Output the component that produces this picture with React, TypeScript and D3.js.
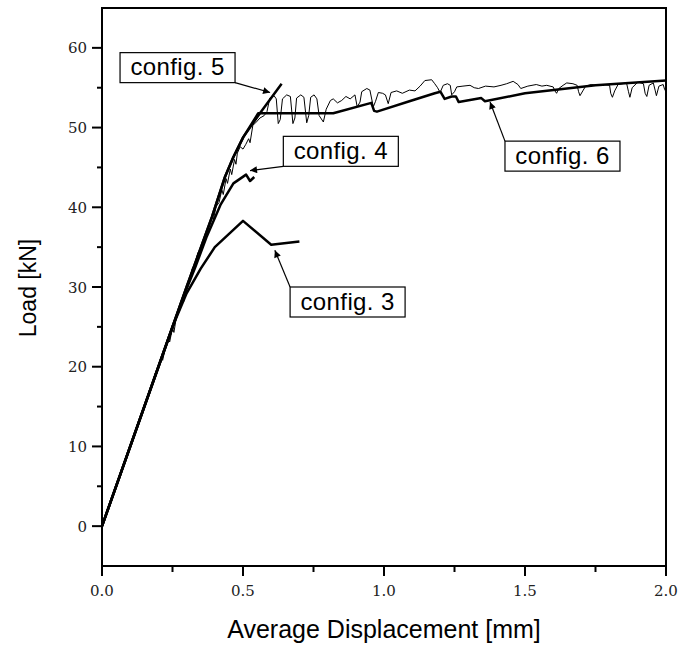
import React from "react";
import * as d3 from "d3";

const W = 678;
const H = 649;
const X_DOMAIN: [number, number] = [0, 2];
const Y_DOMAIN: [number, number] = [-5, 65];
const X_TICKS = [0, 0.5, 1, 1.5, 2];
const X_MINOR = [0.25, 0.75, 1.25, 1.75];
const Y_TICKS = [0, 10, 20, 30, 40, 50, 60];
const Y_MINOR = [5, 15, 25, 35, 45, 55];
const X_TITLE = "Average Displacement [mm]";
const Y_TITLE = "Load [kN]";

// thick simulated curves
const config3: [number, number][] = [
  [0, 0], [0.25, 25], [0.3, 29.2], [0.35, 32.3], [0.4, 35], [0.5, 38.3], [0.6, 35.3], [0.7, 35.7],
];
const config4: [number, number][] = [
  [0, 0], [0.29, 28.9], [0.33, 32.4], [0.37, 36.2], [0.42, 40.3], [0.466, 43.0], [0.511, 44.1],
  [0.525, 43.3], [0.54, 43.8],
];
const config5: [number, number][] = [
  [0, 0], [0.3, 30], [0.39, 38.8], [0.436, 43.8], [0.466, 46.3], [0.501, 48.8], [0.56, 51.8], [0.637, 55.5],
];
const config6: [number, number][] = [
  [0, 0], [0.3, 30], [0.39, 38.8], [0.436, 43.8], [0.466, 46.3], [0.501, 48.8], [0.554, 51.8],
  [0.82, 51.8], [0.955, 53.1], [0.965, 52.1], [0.975, 52.0], [1.09, 53.3], [1.18, 54.3], [1.2, 54.5],
  [1.215, 53.6], [1.24, 53.9], [1.255, 53.9], [1.265, 53.2], [1.345, 53.7], [1.358, 53.3],
  [1.5, 54.3], [1.75, 55.3], [2.0, 55.9],
];
// thin experimental curve
const experiment: [number, number][] = [
  [0, 0], [0.1, 10.1], [0.18, 18.1], [0.19, 19.3], [0.2, 19.9], [0.21, 21.1], [0.215, 20.8], [0.225, 22.4],
  [0.235, 23.6], [0.24, 23.1], [0.25, 24.9], [0.255, 24.3], [0.265, 26.5], [0.275, 27.0], [0.285, 28.6],
  [0.29, 28.2], [0.3, 30.0], [0.31, 30.8], [0.32, 32.3], [0.33, 32.9], [0.34, 34.3], [0.345, 33.9],
  [0.36, 36.0], [0.37, 36.9], [0.38, 37.6], [0.39, 38.9], [0.395, 38.5], [0.405, 40.1], [0.415, 40.6],
  [0.425, 42.2], [0.43, 41.6], [0.44, 43.6], [0.445, 43.0], [0.455, 44.8], [0.46, 44.1], [0.47, 46.0],
  [0.475, 45.4], [0.48, 46.8], [0.49, 47.6], [0.5, 47.3], [0.51, 47.9], [0.52, 48.6], [0.525, 48.1],
  [0.535, 50.3], [0.545, 50.6], [0.56, 51.2], [0.575, 51.5], [0.585, 52.0],
  [0.595, 53.7], [0.61, 54.0], [0.618, 53.6], [0.625, 50.5], [0.632, 51.0], [0.64, 53.6], [0.655, 54.1],
  [0.668, 53.9], [0.677, 50.5], [0.684, 51.2], [0.69, 53.7], [0.705, 54.1], [0.716, 53.8], [0.726, 50.6],
  [0.733, 51.5], [0.74, 53.8], [0.752, 54.1], [0.762, 53.6], [0.77, 51.5], [0.785, 50.7], [0.795, 52.3],
  [0.81, 53.4], [0.82, 53.6], [0.835, 53.1], [0.85, 53.4], [0.865, 53.9], [0.88, 53.6], [0.897, 54.1],
  [0.905, 52.6], [0.915, 53.2], [0.921, 54.5], [0.939, 54.9], [0.95, 54.7], [0.962, 52.6], [0.97, 53.3],
  [0.98, 54.4], [0.995, 54.3], [1.005, 54.1], [1.015, 53.0], [1.025, 54.4], [1.045, 54.6], [1.065, 54.3],
  [1.09, 54.7], [1.11, 54.6], [1.128, 55.2], [1.145, 55.9], [1.169, 56.0], [1.18, 55.5], [1.19, 55.0],
  [1.199, 54.4], [1.21, 55.3], [1.225, 55.5], [1.235, 55.3], [1.24, 54.1], [1.25, 54.5], [1.258, 55.1],
  [1.28, 55.2], [1.305, 55.3], [1.32, 55.0], [1.335, 54.9], [1.36, 55.2], [1.39, 55.1], [1.415, 55.3],
  [1.435, 55.5], [1.458, 55.8], [1.475, 55.4], [1.485, 54.9], [1.51, 55.2], [1.54, 55.4], [1.56, 55.2],
  [1.577, 55.3], [1.6, 55.1], [1.606, 54.6], [1.612, 54.3], [1.62, 54.9], [1.635, 55.3], [1.648, 55.6],
  [1.67, 55.5], [1.685, 55.3], [1.69, 54.5], [1.695, 54.0], [1.705, 54.6], [1.715, 55.2], [1.735, 55.4],
  [1.754, 55.3], [1.78, 55.4], [1.8, 55.3], [1.804, 54.3], [1.81, 53.8], [1.818, 54.6], [1.83, 55.4],
  [1.86, 55.6], [1.867, 54.5], [1.872, 53.8], [1.88, 55.0], [1.9, 55.7], [1.92, 55.5], [1.926, 54.3],
  [1.932, 53.9], [1.94, 55.3], [1.955, 55.6], [1.962, 54.6], [1.966, 54.0], [1.975, 55.2], [1.99, 55.4],
  [1.995, 54.8], [2.0, 54.5],
];

const LABELS = ["config. 5", "config. 4", "config. 6", "config. 3"];
// box anchor (left, top) and arrow tip in data units; arrow tail corner
const BOX_X = [0.064, 0.643, 1.429, 0.667];
const BOX_Y = [59.4, 48.9, 48.3, 30.0];
const TIP_X = [0.596, 0.525, 1.376, 0.613];
const TIP_Y = [54.4, 44.6, 53.2, 34.6];
const TAIL_CORNER = ["br", "bl", "tl", "tl"];

const LEFT = 102, RIGHT = 666, TOP = 8, BOTTOM = 566;

export default function App() {
  const x = d3.scaleLinear().domain(X_DOMAIN).range([LEFT, RIGHT]);
  const y = d3.scaleLinear().domain(Y_DOMAIN).range([BOTTOM, TOP]);
  const line = d3.line<[number, number]>().x((d) => x(d[0])).y((d) => y(d[1]));
  const serif = "'DejaVu Serif', serif";
  const sans = "'Liberation Sans', Arial, sans-serif";
  const boxW = 115, boxH = 30;

  return (
    <svg width={W} height={H} style={{ position: "absolute", left: 0, top: 0, background: "#fff" }}>
      <defs>
        <clipPath id="plot">
          <rect x={LEFT} y={TOP} width={RIGHT - LEFT} height={BOTTOM - TOP} />
        </clipPath>
        <marker id="arr" viewBox="0 0 10 10" refX="10" refY="5" markerWidth="12" markerHeight="7" markerUnits="userSpaceOnUse" orient="auto">
          <path d="M0,0 L10,5 L0,10 z" fill="#000" />
        </marker>
      </defs>
      <rect x={0} y={0} width={W} height={H} fill="#fff" />
      <g clipPath="url(#plot)" fill="none" stroke="#000" strokeLinejoin="round">
        <path d={line(experiment) || ""} strokeWidth={1} />
        <path d={line(config3) || ""} strokeWidth={2.5} />
        <path d={line(config4) || ""} strokeWidth={2.5} />
        <path d={line(config5) || ""} strokeWidth={2.5} />
        <path d={line(config6) || ""} strokeWidth={2.5} />
      </g>
      <rect x={LEFT} y={TOP} width={RIGHT - LEFT} height={BOTTOM - TOP} fill="none" stroke="#000" strokeWidth={2} />
      {Y_TICKS.map((t) => (
        <g key={"y" + t}>
          <line x1={LEFT - 10} x2={LEFT} y1={y(t)} y2={y(t)} stroke="#000" strokeWidth={2} />
          <text x={LEFT - 15} y={y(t) + 5.5} textAnchor="end" fontFamily={serif} fontSize={15} fill="#222">{t}</text>
        </g>
      ))}
      {Y_MINOR.map((t) => (
        <line key={"ym" + t} x1={LEFT - 5} x2={LEFT} y1={y(t)} y2={y(t)} stroke="#000" strokeWidth={2} />
      ))}
      {X_TICKS.map((t) => (
        <g key={"x" + t}>
          <line x1={x(t)} x2={x(t)} y1={BOTTOM} y2={BOTTOM + 10} stroke="#000" strokeWidth={2} />
          <text x={x(t)} y={BOTTOM + 30} textAnchor="middle" fontFamily={serif} fontSize={15} fill="#222">{t.toFixed(1)}</text>
        </g>
      ))}
      {X_MINOR.map((t) => (
        <line key={"xm" + t} x1={x(t)} x2={x(t)} y1={BOTTOM} y2={BOTTOM + 6} stroke="#000" strokeWidth={2} />
      ))}
      <text x={(LEFT + RIGHT) / 2} y={638} textAnchor="middle" fontFamily={sans} fontSize={25}>{X_TITLE}</text>
      <text transform={`translate(36,${288}) rotate(-90)`} textAnchor="middle" fontFamily={sans} fontSize={23}>{Y_TITLE}</text>
      {LABELS.map((lab, i) => {
        const bx = x(BOX_X[i]);
        const by = y(BOX_Y[i]);
        const c = TAIL_CORNER[i];
        const tx = c.includes("r") ? bx + boxW : bx;
        const ty = c.includes("b") ? by + boxH : by;
        return (
          <g key={lab}>
            <line x1={tx} y1={ty} x2={x(TIP_X[i])} y2={y(TIP_Y[i])} stroke="#000" strokeWidth={1.2} markerEnd="url(#arr)" />
            <rect x={bx} y={by} width={boxW} height={boxH} fill="#fff" stroke="#000" strokeWidth={1.2} />
            <text x={bx + boxW / 2} y={by + 22.5} textAnchor="middle" fontFamily={sans} fontSize={24} letterSpacing={0.4}>{lab}</text>
          </g>
        );
      })}
    </svg>
  );
}
